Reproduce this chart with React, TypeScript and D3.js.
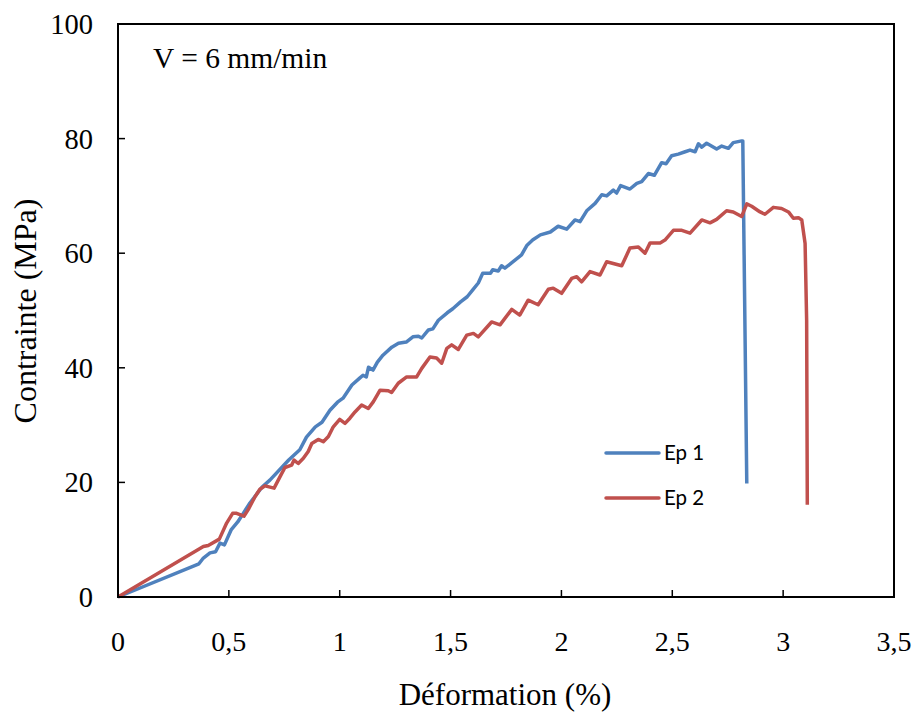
import React from "react";
import * as d3 from "d3";

const strain1 = [0, 0.365, 0.385, 0.415, 0.44, 0.46, 0.48, 0.51, 0.54, 0.565, 0.595, 0.65, 0.685, 0.77, 0.82, 0.85, 0.89, 0.92, 0.956, 0.99, 1.015, 1.055, 1.09, 1.105, 1.12, 1.13, 1.15, 1.17, 1.195, 1.235, 1.265, 1.3, 1.33, 1.355, 1.37, 1.4, 1.42, 1.445, 1.485, 1.51, 1.545, 1.575, 1.6, 1.625, 1.645, 1.68, 1.69, 1.715, 1.73, 1.745, 1.775, 1.82, 1.845, 1.87, 1.905, 1.95, 1.985, 2.024, 2.061, 2.084, 2.114, 2.152, 2.182, 2.204, 2.234, 2.249, 2.267, 2.309, 2.34, 2.362, 2.392, 2.419, 2.452, 2.472, 2.497, 2.527, 2.558, 2.58, 2.603, 2.618, 2.633, 2.655, 2.7, 2.723, 2.753, 2.775, 2.813, 2.818, 2.836];
const stress1 = [0, 5.8, 6.8, 7.7, 7.9, 9.4, 9.1, 11.7, 13.1, 14.6, 16.4, 19.2, 20.4, 23.9, 25.7, 27.9, 29.7, 30.5, 32.6, 34.0, 34.7, 37.0, 38.2, 38.7, 38.4, 40.1, 39.6, 41.0, 42.2, 43.6, 44.3, 44.5, 45.4, 45.5, 45.2, 46.6, 46.8, 48.3, 49.6, 50.3, 51.5, 52.4, 53.6, 54.8, 56.5, 56.5, 57.1, 56.9, 57.8, 57.4, 58.3, 59.7, 61.4, 62.3, 63.2, 63.7, 64.7, 64.2, 65.8, 65.5, 67.4, 68.7, 70.2, 70.0, 71.0, 70.5, 71.8, 71.2, 72.2, 72.5, 73.9, 73.6, 75.8, 75.6, 77.0, 77.3, 77.7, 78.0, 77.7, 79.1, 78.5, 79.2, 78.2, 78.7, 78.3, 79.3, 79.6, 79.6, 19.8];

const strain2 = [0, 0.385, 0.407, 0.457, 0.49, 0.517, 0.535, 0.568, 0.588, 0.618, 0.64, 0.663, 0.704, 0.731, 0.753, 0.783, 0.794, 0.813, 0.836, 0.858, 0.874, 0.903, 0.926, 0.949, 0.971, 1.0, 1.024, 1.046, 1.069, 1.099, 1.129, 1.152, 1.182, 1.219, 1.234, 1.264, 1.302, 1.347, 1.37, 1.407, 1.437, 1.46, 1.483, 1.505, 1.535, 1.573, 1.603, 1.625, 1.685, 1.723, 1.776, 1.812, 1.85, 1.895, 1.941, 1.963, 2.001, 2.046, 2.069, 2.091, 2.129, 2.174, 2.204, 2.272, 2.309, 2.347, 2.377, 2.4, 2.445, 2.467, 2.505, 2.543, 2.58, 2.633, 2.67, 2.7, 2.745, 2.775, 2.813, 2.836, 2.858, 2.896, 2.918, 2.956, 2.993, 3.024, 3.046, 3.069, 3.084, 3.099, 3.106, 3.109];
const stress2 = [0, 8.8, 9.0, 10.1, 12.9, 14.6, 14.6, 14.1, 15.3, 17.5, 18.8, 19.4, 19.0, 21.0, 22.6, 23.0, 23.9, 23.3, 24.2, 25.4, 26.8, 27.5, 27.1, 28.0, 29.7, 31.0, 30.3, 31.2, 32.3, 33.5, 32.9, 34.1, 36.1, 36.0, 35.7, 37.3, 38.4, 38.4, 39.9, 41.9, 41.7, 40.8, 43.4, 44.0, 43.2, 45.7, 46.0, 45.4, 48.0, 47.5, 50.2, 49.2, 51.8, 51.0, 53.7, 53.9, 53.0, 55.6, 55.9, 55.0, 56.8, 56.2, 58.5, 57.8, 60.9, 61.1, 60.0, 61.8, 61.8, 62.3, 64.0, 64.0, 63.5, 65.8, 65.3, 65.9, 67.4, 67.2, 66.4, 68.6, 68.2, 67.2, 66.8, 68.0, 67.8, 67.2, 66.1, 66.2, 65.8, 61.7, 48.3, 16.1];

const xTicks = [0, 0.5, 1, 1.5, 2, 2.5, 3, 3.5];
const xTickLabels = ["0", "0,5", "1", "1,5", "2", "2,5", "3", "3,5"];
const yTicks = [0, 20, 40, 60, 80, 100];
const seriesNames = ["Ep 1", "Ep 2"];
const seriesColors = ["#4F81BD", "#C0504D"];

const W = 915, H = 713;
const L = 118, R = 894, T = 24, B = 597;

export default function App() {
  const x = d3.scaleLinear().domain([0, 3.5]).range([L, R]);
  const y = d3.scaleLinear().domain([0, 100]).range([B, T]);
  const line = d3.line<[number, number]>().x(d => x(d[0])).y(d => y(d[1]));
  const s1: [number, number][] = strain1.map((v, i) => [v, stress1[i]]);
  const s2: [number, number][] = strain2.map((v, i) => [v, stress2[i]]);
  const serif = "'Liberation Serif', 'Times New Roman', serif";
  return (
    <svg width={W} height={H} style={{ position: "absolute", left: 0, top: 0, background: "#fff" }}>
      <rect x={0} y={0} width={W} height={H} fill="#fff" />
      <path d={line(s1) || ""} fill="none" stroke={seriesColors[0]} strokeWidth={3.5} strokeLinejoin="round" />
      <path d={line(s2) || ""} fill="none" stroke={seriesColors[1]} strokeWidth={3.5} strokeLinejoin="round" />
      <rect x={L} y={T} width={R - L} height={B - T} fill="none" stroke="#000" strokeWidth={2} />
      {xTicks.map((t, i) => (
        <g key={"x" + i}>
          {i > 0 && i < xTicks.length - 1 && <line x1={x(t)} x2={x(t)} y1={B} y2={B - 7} stroke="#000" strokeWidth={1.5} />}
          <text x={x(t)} y={651} textAnchor="middle" fontFamily={serif} fontSize={28}>{xTickLabels[i]}</text>
        </g>
      ))}
      {yTicks.map((t, i) => (
        <g key={"y" + i}>
          {i > 0 && i < yTicks.length - 1 && <line x1={L} x2={L + 7} y1={y(t)} y2={y(t)} stroke="#000" strokeWidth={1.5} />}
          <text x={93} y={y(t) + 10} textAnchor="end" fontFamily={serif} fontSize={28.5}>{t}</text>
        </g>
      ))}
      <text x={505} y={705} textAnchor="middle" fontFamily={serif} fontSize={31}>Déformation (%)</text>
      <text transform={`translate(36,311) rotate(-90)`} textAnchor="middle" fontFamily={serif} fontSize={32}>Contrainte (MPa)</text>
      <text x={153} y={68} fontFamily={serif} fontSize={29.5}>V = 6 mm/min</text>
      {seriesNames.map((n, i) => (
        <g key={n}>
          <line x1={606} x2={659} y1={453 + i * 45} y2={453 + i * 45} stroke={seriesColors[i]} strokeWidth={3.5} strokeLinecap="round" />
          <text x={664} y={460 + i * 45} fontFamily="Lato, 'Open Sans', sans-serif" fontSize={20.5}>{n}</text>
        </g>
      ))}
    </svg>
  );
}
